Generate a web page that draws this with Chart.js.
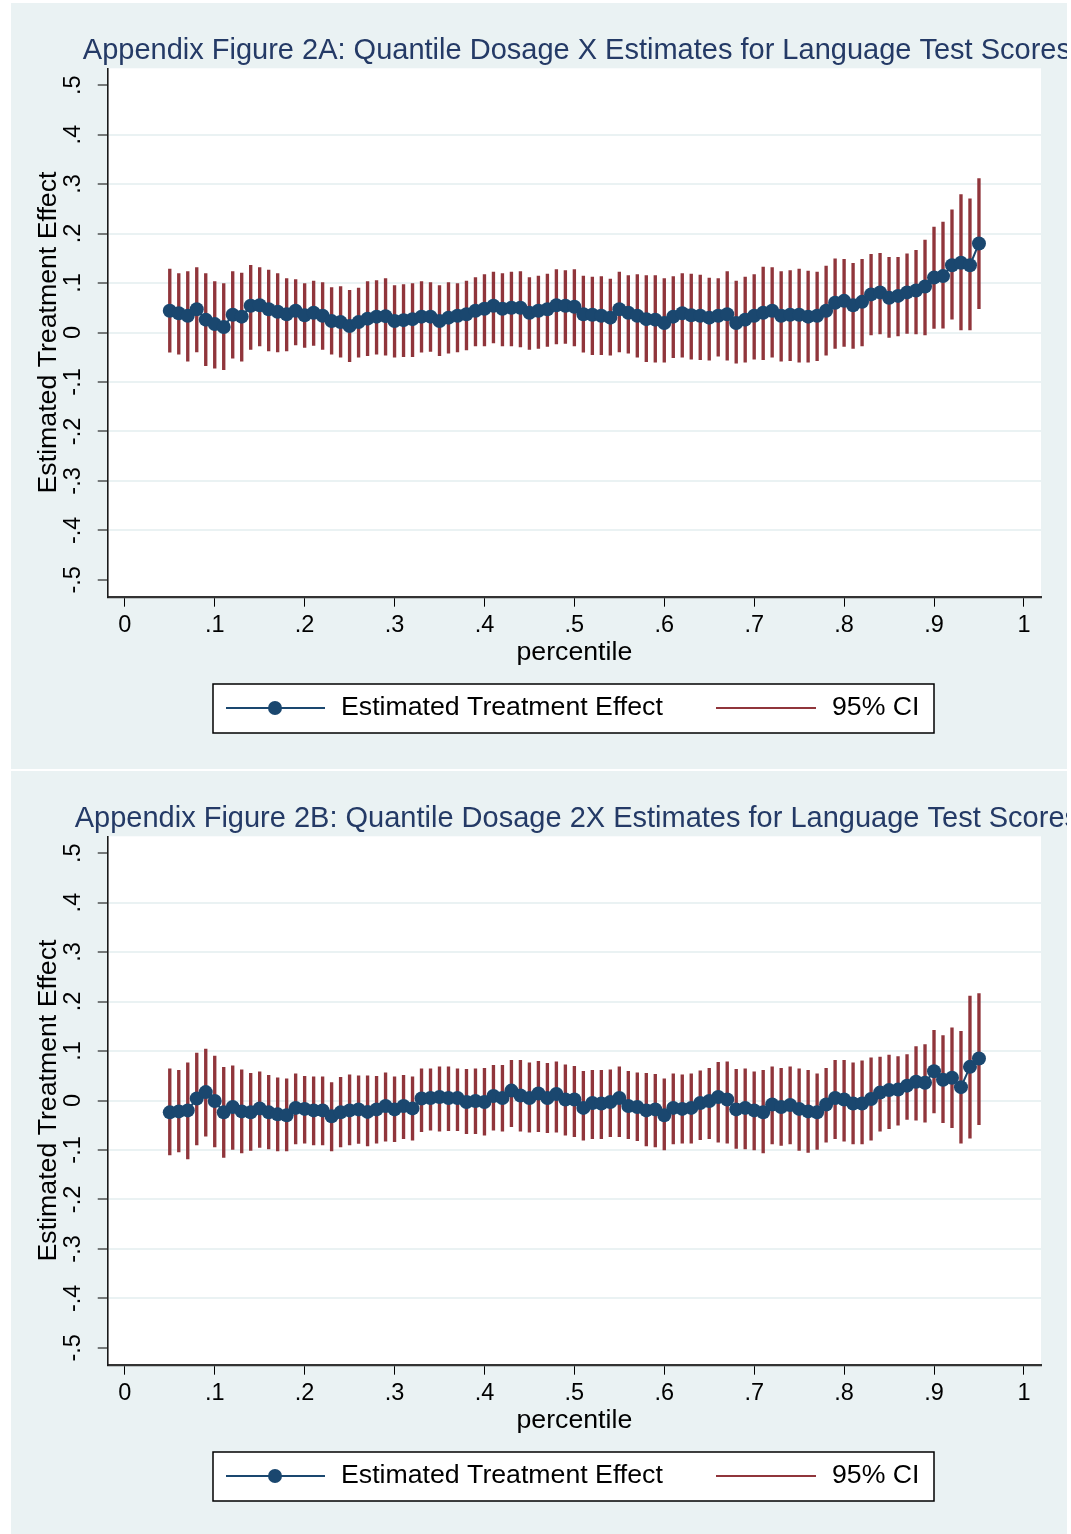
<!DOCTYPE html>
<html>
<head>
<meta charset="utf-8">
<script src="https://cdn.jsdelivr.net/npm/chart.js@4.4.1/dist/chart.umd.min.js"></script>
<style>
  html, body { margin: 0; padding: 0; background: #fff; overflow: hidden; }
  body { width: 1071px; height: 1534px; position: relative; }
  .panel { position: absolute; left: 11px; width: 1056px; height: 766px; background: #eaf2f3; overflow: hidden; }
  #panelA { top: 3px; }
  #panelB { top: 771px; }
  canvas { display: block; }
</style>
</head>
<body>
<div class="panel" id="panelA"><canvas id="chartA" width="1056" height="766"></canvas></div>
<div class="panel" id="panelB"><canvas id="chartB" width="1056" height="766"></canvas></div>
<script>
// percentiles (x)
const pct = [0.05, 0.06, 0.07, 0.08, 0.09, 0.10, 0.11, 0.12, 0.13, 0.14,
  0.15, 0.16, 0.17, 0.18, 0.19, 0.20, 0.21, 0.22, 0.23, 0.24,
  0.25, 0.26, 0.27, 0.28, 0.29, 0.30, 0.31, 0.32, 0.33, 0.34,
  0.35, 0.36, 0.37, 0.38, 0.39, 0.40, 0.41, 0.42, 0.43, 0.44,
  0.45, 0.46, 0.47, 0.48, 0.49, 0.50, 0.51, 0.52, 0.53, 0.54,
  0.55, 0.56, 0.57, 0.58, 0.59, 0.60, 0.61, 0.62, 0.63, 0.64,
  0.65, 0.66, 0.67, 0.68, 0.69, 0.70, 0.71, 0.72, 0.73, 0.74,
  0.75, 0.76, 0.77, 0.78, 0.79, 0.80, 0.81, 0.82, 0.83, 0.84,
  0.85, 0.86, 0.87, 0.88, 0.89, 0.90, 0.91, 0.92, 0.93, 0.94, 0.95];

// Figure 2A (dosage X)
const estA = [0.044, 0.039, 0.034, 0.047, 0.026, 0.017, 0.011, 0.036, 0.032, 0.054,
  0.055, 0.047, 0.042, 0.037, 0.044, 0.035, 0.040, 0.034, 0.023, 0.021,
  0.013, 0.021, 0.028, 0.032, 0.033, 0.023, 0.025, 0.027, 0.032, 0.032,
  0.023, 0.030, 0.034, 0.037, 0.044, 0.048, 0.054, 0.048, 0.050, 0.050,
  0.040, 0.044, 0.047, 0.055, 0.054, 0.052, 0.037, 0.036, 0.034, 0.030,
  0.047, 0.040, 0.034, 0.027, 0.026, 0.019, 0.032, 0.039, 0.035, 0.034,
  0.030, 0.034, 0.037, 0.019, 0.026, 0.034, 0.040, 0.044, 0.034, 0.036,
  0.036, 0.032, 0.034, 0.044, 0.060, 0.064, 0.055, 0.062, 0.077, 0.081,
  0.070, 0.074, 0.081, 0.085, 0.093, 0.111, 0.114, 0.136, 0.141, 0.136, 0.180];
const hiA = [0.128, 0.119, 0.123, 0.131, 0.119, 0.103, 0.099, 0.123, 0.120, 0.136,
  0.131, 0.126, 0.119, 0.109, 0.107, 0.099, 0.104, 0.101, 0.091, 0.093,
  0.085, 0.090, 0.103, 0.105, 0.109, 0.095, 0.097, 0.099, 0.103, 0.101,
  0.095, 0.101, 0.099, 0.104, 0.111, 0.117, 0.122, 0.119, 0.122, 0.123,
  0.111, 0.114, 0.118, 0.127, 0.125, 0.127, 0.114, 0.112, 0.113, 0.108,
  0.122, 0.115, 0.117, 0.115, 0.115, 0.109, 0.113, 0.119, 0.118, 0.116,
  0.110, 0.109, 0.123, 0.104, 0.112, 0.117, 0.132, 0.131, 0.123, 0.125,
  0.128, 0.124, 0.122, 0.134, 0.149, 0.148, 0.140, 0.148, 0.158, 0.160,
  0.152, 0.152, 0.159, 0.166, 0.187, 0.213, 0.223, 0.248, 0.279, 0.270, 0.311];
const loA = [-0.040, -0.044, -0.058, -0.039, -0.067, -0.072, -0.075, -0.052, -0.058, -0.034,
  -0.027, -0.037, -0.039, -0.037, -0.025, -0.030, -0.026, -0.034, -0.044, -0.050,
  -0.059, -0.050, -0.047, -0.044, -0.046, -0.050, -0.049, -0.049, -0.040, -0.038,
  -0.047, -0.042, -0.039, -0.035, -0.027, -0.027, -0.021, -0.027, -0.027, -0.029,
  -0.034, -0.032, -0.028, -0.023, -0.022, -0.027, -0.040, -0.045, -0.045, -0.046,
  -0.039, -0.042, -0.050, -0.059, -0.060, -0.060, -0.051, -0.050, -0.054, -0.055,
  -0.056, -0.048, -0.056, -0.062, -0.060, -0.054, -0.055, -0.050, -0.058, -0.057,
  -0.060, -0.060, -0.057, -0.046, -0.032, -0.028, -0.032, -0.027, -0.005, -0.003,
  -0.010, -0.007, -0.002, -0.003, -0.005, 0.008, 0.009, 0.027, 0.005, 0.005, 0.048];

// Figure 2B (dosage 2X)
const estB = [-0.024, -0.022, -0.020, 0.004, 0.017, -0.001, -0.024, -0.013, -0.022, -0.024,
  -0.016, -0.024, -0.028, -0.030, -0.015, -0.017, -0.020, -0.020, -0.032, -0.024,
  -0.020, -0.018, -0.023, -0.018, -0.011, -0.018, -0.011, -0.016, 0.004, 0.005,
  0.007, 0.005, 0.005, -0.003, -0.001, -0.003, 0.009, 0.005, 0.020, 0.010,
  0.005, 0.014, 0.005, 0.013, 0.002, 0.002, -0.015, -0.005, -0.006, -0.003,
  0.005, -0.011, -0.013, -0.020, -0.018, -0.030, -0.015, -0.017, -0.015, -0.005,
  -0.001, 0.007, 0.002, -0.018, -0.015, -0.020, -0.024, -0.008, -0.013, -0.009,
  -0.017, -0.022, -0.024, -0.008, 0.005, 0.002, -0.006, -0.006, 0.003, 0.016,
  0.021, 0.022, 0.030, 0.038, 0.036, 0.059, 0.042, 0.046, 0.027, 0.068, 0.085];
const hiB = [0.064, 0.061, 0.076, 0.096, 0.104, 0.090, 0.067, 0.070, 0.062, 0.055,
  0.058, 0.051, 0.046, 0.044, 0.054, 0.049, 0.048, 0.048, 0.036, 0.047,
  0.052, 0.050, 0.050, 0.049, 0.056, 0.048, 0.051, 0.048, 0.064, 0.064,
  0.068, 0.068, 0.064, 0.063, 0.064, 0.065, 0.071, 0.071, 0.081, 0.081,
  0.076, 0.079, 0.075, 0.078, 0.072, 0.069, 0.059, 0.061, 0.061, 0.062,
  0.068, 0.059, 0.056, 0.055, 0.053, 0.044, 0.054, 0.052, 0.054, 0.060,
  0.065, 0.077, 0.078, 0.063, 0.064, 0.058, 0.061, 0.068, 0.065, 0.068,
  0.064, 0.061, 0.054, 0.065, 0.081, 0.081, 0.076, 0.080, 0.086, 0.088,
  0.092, 0.089, 0.093, 0.109, 0.113, 0.142, 0.131, 0.147, 0.140, 0.211, 0.216];
const loB = [-0.110, -0.104, -0.118, -0.090, -0.072, -0.094, -0.115, -0.099, -0.106, -0.101,
  -0.095, -0.098, -0.102, -0.102, -0.088, -0.086, -0.090, -0.090, -0.102, -0.094,
  -0.090, -0.087, -0.092, -0.086, -0.082, -0.083, -0.077, -0.080, -0.063, -0.060,
  -0.062, -0.061, -0.061, -0.067, -0.067, -0.070, -0.060, -0.062, -0.053, -0.062,
  -0.064, -0.063, -0.065, -0.064, -0.070, -0.073, -0.080, -0.077, -0.077, -0.073,
  -0.073, -0.077, -0.081, -0.092, -0.094, -0.100, -0.088, -0.086, -0.086, -0.079,
  -0.077, -0.084, -0.086, -0.097, -0.098, -0.100, -0.106, -0.088, -0.091, -0.088,
  -0.101, -0.105, -0.099, -0.084, -0.077, -0.082, -0.088, -0.088, -0.080, -0.062,
  -0.057, -0.050, -0.038, -0.040, -0.044, -0.025, -0.045, -0.055, -0.086, -0.076, -0.049];

const xTickVals = [0, 0.1, 0.2, 0.3, 0.4, 0.5, 0.6, 0.7, 0.8, 0.9, 1];
const xTickLabels = ["0", ".1", ".2", ".3", ".4", ".5", ".6", ".7", ".8", ".9", "1"];
const yTickVals = [-0.5, -0.4, -0.3, -0.2, -0.1, 0, 0.1, 0.2, 0.3, 0.4, 0.5];
const yTickLabels = ["-.5", "-.4", "-.3", "-.2", "-.1", "0", ".1", ".2", ".3", ".4", ".5"];

const NAVY = "#1a476f";
const MAROON = "#90353b";
const FONT = "'Liberation Sans', Arial, sans-serif";

Chart.defaults.font.family = FONT;
Chart.defaults.color = "#000";

// stata-ish decorations: white plot region, title, rotated y labels, x title, boxed legend
const stataDecor = {
  id: "stataDecor",
  beforeDraw(chart) {
    const a = chart.chartArea;
    const ctx = chart.ctx;
    ctx.save();
    ctx.fillStyle = "#fff";
    ctx.fillRect(a.left, a.top, a.right - a.left, a.bottom - a.top);
    ctx.restore();
  },
  afterDraw(chart, args, opts) {
    const a = chart.chartArea;
    const ctx = chart.ctx;
    const ys = chart.scales.y;
    const cx = (a.left + a.right) / 2;
    ctx.save();

    // title (a bit right of the plot centre, runs off the edge)
    ctx.fillStyle = "#243a66";
    ctx.font = "29px " + FONT;
    ctx.textAlign = "center";
    ctx.textBaseline = "alphabetic";
    ctx.fillText(opts.title, cx + 2.5, 56.3);

    // y tick labels, rotated like stata
    ctx.fillStyle = "#000";
    ctx.font = "23.5px " + FONT;
    yTickVals.forEach((v, i) => {
      ctx.save();
      ctx.translate(69, ys.getPixelForValue(v));
      ctx.rotate(-Math.PI / 2);
      ctx.textAlign = "center";
      ctx.fillText(yTickLabels[i], 0, 0);
      ctx.restore();
    });

    // x title
    ctx.font = "26.7px " + FONT;
    ctx.textAlign = "center";
    ctx.fillText("percentile", cx, 657);

    // legend
    ctx.fillStyle = "#fff";
    ctx.fillRect(202, 681, 721, 49);
    ctx.strokeStyle = "#000";
    ctx.lineWidth = 1.5;
    ctx.strokeRect(202, 681, 721, 49);

    ctx.strokeStyle = NAVY;
    ctx.lineWidth = 2;
    ctx.beginPath();
    ctx.moveTo(215, 705);
    ctx.lineTo(314, 705);
    ctx.stroke();
    ctx.fillStyle = NAVY;
    ctx.beginPath();
    ctx.arc(264, 705, 7, 0, Math.PI * 2);
    ctx.fill();

    ctx.strokeStyle = MAROON;
    ctx.beginPath();
    ctx.moveTo(705, 705);
    ctx.lineTo(805, 705);
    ctx.stroke();

    ctx.fillStyle = "#000";
    ctx.textAlign = "left";
    ctx.fillText("Estimated Treatment Effect", 330, 712.3);
    ctx.fillText("95% CI", 821, 712.3);
    ctx.restore();
  }
};

function makePanel(canvasId, title, est, lo, hi) {
  const ctx = document.getElementById(canvasId);
  const points = pct.map((p, i) => ({ x: p, y: est[i] }));
  const spikes = pct.map((p, i) => ({ x: p, y: [lo[i], hi[i]] }));

  return new Chart(ctx, {
    type: "line",
    data: {
      datasets: [
        {
          label: "Estimated Treatment Effect",
          data: points,
          borderColor: NAVY,
          borderWidth: 2,
          pointRadius: 7,
          pointBackgroundColor: NAVY,
          pointBorderWidth: 0,
          tension: 0,
          order: 0
        },
        {
          type: "bar",
          label: "95% CI",
          data: spikes,
          backgroundColor: MAROON,
          borderWidth: 0,
          barThickness: 2.7,
          order: 1
        }
      ]
    },
    options: {
      responsive: false,
      animation: false,
      devicePixelRatio: 1,
      layout: { padding: { left: 10, right: 26, top: 65.3, bottom: 125.1 } },
      plugins: {
        legend: { display: false },
        tooltip: { enabled: false },
        stataDecor: { title: title }
      },
      scales: {
        x: {
          type: "linear",
          offset: false,
          min: -0.019,
          max: 1.019,
          afterBuildTicks: s => { s.ticks = xTickVals.map(v => ({ value: v })); },
          ticks: {
            autoSkip: false,
            maxRotation: 0,
            padding: 4.5,
            font: { size: 23.5 },
            color: "#000",
            callback: (v, i) => xTickLabels[i]
          },
          grid: {
            offset: false,
            drawOnChartArea: false,
            drawTicks: true,
            tickLength: 10,
            tickColor: "#000",
            tickWidth: 1
          },
          border: { display: true, color: "#333", width: 2.2 }
        },
        y: {
          type: "linear",
          min: -0.534,
          max: 0.534,
          afterBuildTicks: s => { s.ticks = yTickVals.map(v => ({ value: v })); },
          ticks: { display: false },
          grid: {
            offset: false,
            color: c => (c.tick && Math.abs(c.tick.value) > 0.45) ? "rgba(0,0,0,0)" : "#eaf2f3",
            lineWidth: 2,
            drawTicks: true,
            tickLength: 10,
            tickColor: "#000",
            tickWidth: 1
          },
          border: { display: true, color: "#1a1a1a", width: 1.6 },
          title: {
            display: true,
            text: "Estimated Treatment Effect",
            font: { size: 26.7 },
            color: "#000",
            padding: { top: 11.2, bottom: 33.5 }
          }
        }
      }
    },
    plugins: [stataDecor]
  });
}

makePanel("chartA", "Appendix Figure 2A: Quantile Dosage X Estimates for Language Test Scores", estA, loA, hiA);
makePanel("chartB", "Appendix Figure 2B: Quantile Dosage 2X Estimates for Language Test Scores", estB, loB, hiB);
</script>
</body>
</html>
